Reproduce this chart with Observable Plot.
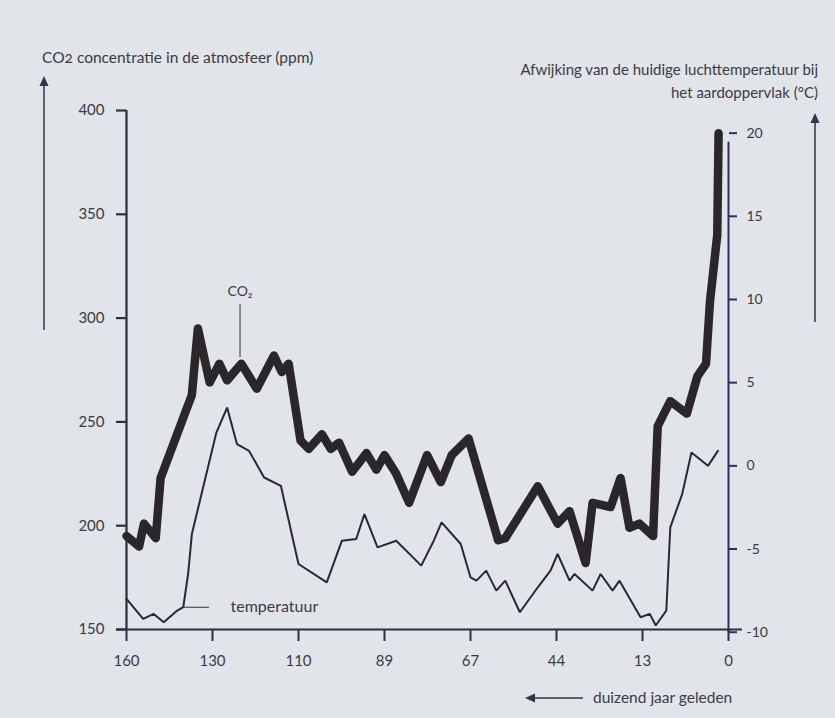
<!DOCTYPE html>
<html><head><meta charset="utf-8">
<script src="https://cdn.jsdelivr.net/npm/d3@7"></script>
<script src="https://cdn.jsdelivr.net/npm/@observablehq/plot@0.6"></script>
<style>
html,body{margin:0;padding:0;background:#e1e4e9;}
#wrap{position:relative;width:835px;height:718px;overflow:hidden;}
svg{font-variant-numeric:oldstyle-nums;}
</style></head><body><div id="wrap"></div>
<script>
// ---- data (thousand years ago) ----
const tickYears = [160,130,110,89,67,44,13,0];
const ppmTicks = [150,200,250,300,350,400];
const tempTicks = [-10,-5,0,5,10,15,20];

const co2Years = [160,155.6,153.9,149.8,148.1,137.2,135.1,131.0,128.4,126.6,123.3,119.7,115.7,113.9,112.3,109.5,107.5,104.3,102.1,100.1,96.9,93.4,91.0,89.0,86.0,82.7,78.1,74.6,71.8,67.5,59.6,57.7,49.0,43.6,39.3,33.5,31.0,24.5,20.9,17.7,14.1,11.4,10.7,8.8,6.3,4.7,3.4,2.8,1.7,1.5];
const co2Ppm = [195,190,201,194,223,263,295,269,278,270,278,266,282,274,278,241,237,244,237,240,226,235,227,234,225,211,234,221,234,242,193,194,219,201,207,182,211,209,223,199,201,195,248,260,254,272,278,308,340,389];

const tempYears = [160,154.2,150.5,147.0,142.3,140.2,138.5,137.2,129.1,126.6,124.3,121.5,118.0,114.1,110,103.1,99.4,95.9,93.9,90.7,86.0,79.6,76.4,74.4,69.5,67.0,65.4,62.8,60.1,57.7,53.8,49.0,45.6,43.6,39.3,37.5,31.0,28.1,23.8,21.3,13.7,11.9,11.0,9.4,8.8,7.0,5.6,3.1,1.6];
const tempC = [-8.0,-9.2,-8.9,-9.4,-8.7,-8.5,-6.5,-4.1,2.0,3.5,1.3,0.9,-0.7,-1.2,-5.9,-7.0,-4.5,-4.4,-2.9,-4.9,-4.5,-6.0,-4.5,-3.4,-4.7,-6.7,-6.9,-6.3,-7.5,-6.9,-8.8,-7.3,-6.3,-5.3,-6.9,-6.5,-7.5,-6.5,-7.5,-6.9,-9.1,-8.9,-9.6,-8.7,-3.7,-1.7,0.8,0.0,0.9];

// annotations
const co2Label = {year: 123.6, ppm: 313, text: "CO₂", leaderTop: 306.5, leaderBottom: 281};
const tempLabel = {yearText: 125.8, yearFrom: 140.2, yearTo: 131.0, temp: -8.5, text: "temperatuur"};

// secondary (temperature) axis mapped onto the ppm scale
const tempToPpm = d3.scaleLinear().domain([-10, 20]).range([148.7, 389.1]);

const co2 = co2Years.map((year, i) => ({year, ppm: co2Ppm[i]}));
const temp = tempYears.map((year, i) => ({year, t: tempC[i]}));

const W = 835, H = 718;
const mL = 126, mR = 107, mT = 110, mB = 89;
const innerW = W - mL - mR;
const xRange = tickYears.map((_, i) => mL + i * innerW / (tickYears.length - 1));
const axisColor = "#2c2e44";
const ink = "#2a2629";
const textColor = "#3a3b44";

const chart = Plot.plot({
  width: W, height: H,
  marginLeft: mL, marginRight: mR, marginTop: mT, marginBottom: mB,
  style: {background: "transparent", fontFamily: "Lato, 'Open Sans', sans-serif", fontSize: "14px", color: textColor},
  x: {type: "linear", domain: tickYears, range: xRange},
  y: {type: "linear", domain: [150, 400]},
  marks: [
    Plot.ruleY([150], {stroke: axisColor, strokeWidth: 2.2, insetLeft: -10, insetRight: -14}),
    Plot.ruleX([160], {stroke: axisColor, strokeWidth: 2.2}),
    Plot.ruleX([0], {y1: tempToPpm(-10), y2: tempToPpm(20), stroke: "#2e3160", strokeWidth: 2, insetBottom: -9}),
    Plot.axisY(ppmTicks, {anchor: "left", tickSize: 10, tickPadding: 12, label: null, stroke: axisColor, strokeWidth: 2.2, fontSize: 15}),
    Plot.axisY(tempTicks.map(tempToPpm), {anchor: "right", tickSize: 8, tickPadding: 10, label: null, stroke: "#2e3160", strokeWidth: 2, fontSize: 14,
      tickFormat: v => String(Math.round(tempToPpm.invert(v)))}),
    Plot.axisX(tickYears, {anchor: "bottom", tickSize: 12, tickPadding: 14, label: null, stroke: axisColor, strokeWidth: 2, fontSize: 15,
      tickFormat: d => String(d)}),
    Plot.line(temp, {x: "year", y: d => tempToPpm(d.t), stroke: "#2b2834", strokeWidth: 2, strokeLinejoin: "miter"}),
    Plot.line(co2, {x: "year", y: "ppm", stroke: ink, strokeWidth: 8.5, strokeLinejoin: "round", strokeLinecap: "round"}),
    Plot.ruleX([co2Label], {x: "year", y1: "leaderBottom", y2: "leaderTop", stroke: "#333", strokeWidth: 1}),
    Plot.text([co2Label], {x: "year", y: "ppm", text: "text", fill: textColor, fontSize: 14}),
    Plot.ruleY([tempLabel], {x1: "yearFrom", x2: "yearTo", y: d => tempToPpm(d.temp), stroke: "#333", strokeWidth: 1}),
    Plot.text([tempLabel], {x: "yearText", y: d => tempToPpm(d.temp), text: "text", textAnchor: "start", fill: textColor, fontSize: 16})
  ]
});

document.getElementById("wrap").appendChild(chart);

// decorations: titles and arrows
const svg = d3.select(chart);
const deco = svg.append("g").attr("font-family", "Lato, 'Open Sans', sans-serif").attr("fill", textColor).attr("text-anchor", "start");
deco.append("text").attr("x", 42).attr("y", 63).attr("font-size", 15.5).attr("text-anchor", "start").text("CO2 concentratie in de atmosfeer (ppm)");
deco.append("text").attr("x", 818).attr("y", 75).attr("font-size", 15).attr("text-anchor", "end").text("Afwijking van de huidige luchttemperatuur bij");
deco.append("text").attr("x", 818).attr("y", 98).attr("font-size", 15).attr("text-anchor", "end").text("het aardoppervlak (°C)");
deco.append("text").attr("x", 593).attr("y", 703).attr("font-size", 15.5).attr("text-anchor", "start").text("duizend jaar geleden");

function arrow(x1, y1, x2, y2) {
  const ang = Math.atan2(y2 - y1, x2 - x1), L = 10, w = 4.5;
  const bx = x2 - L * Math.cos(ang), by = y2 - L * Math.sin(ang);
  deco.append("line").attr("x1", x1).attr("y1", y1).attr("x2", bx).attr("y2", by)
    .attr("stroke", "#34354a").attr("stroke-width", 1.5);
  deco.append("path").attr("fill", "#34354a").attr("d",
    `M${x2},${y2}L${bx - w * Math.sin(ang)},${by + w * Math.cos(ang)}L${bx + w * Math.sin(ang)},${by - w * Math.cos(ang)}Z`);
}
arrow(44, 330, 44, 76);
arrow(815, 322, 815, 113);
arrow(583, 698, 525, 698);
</script></body></html>
